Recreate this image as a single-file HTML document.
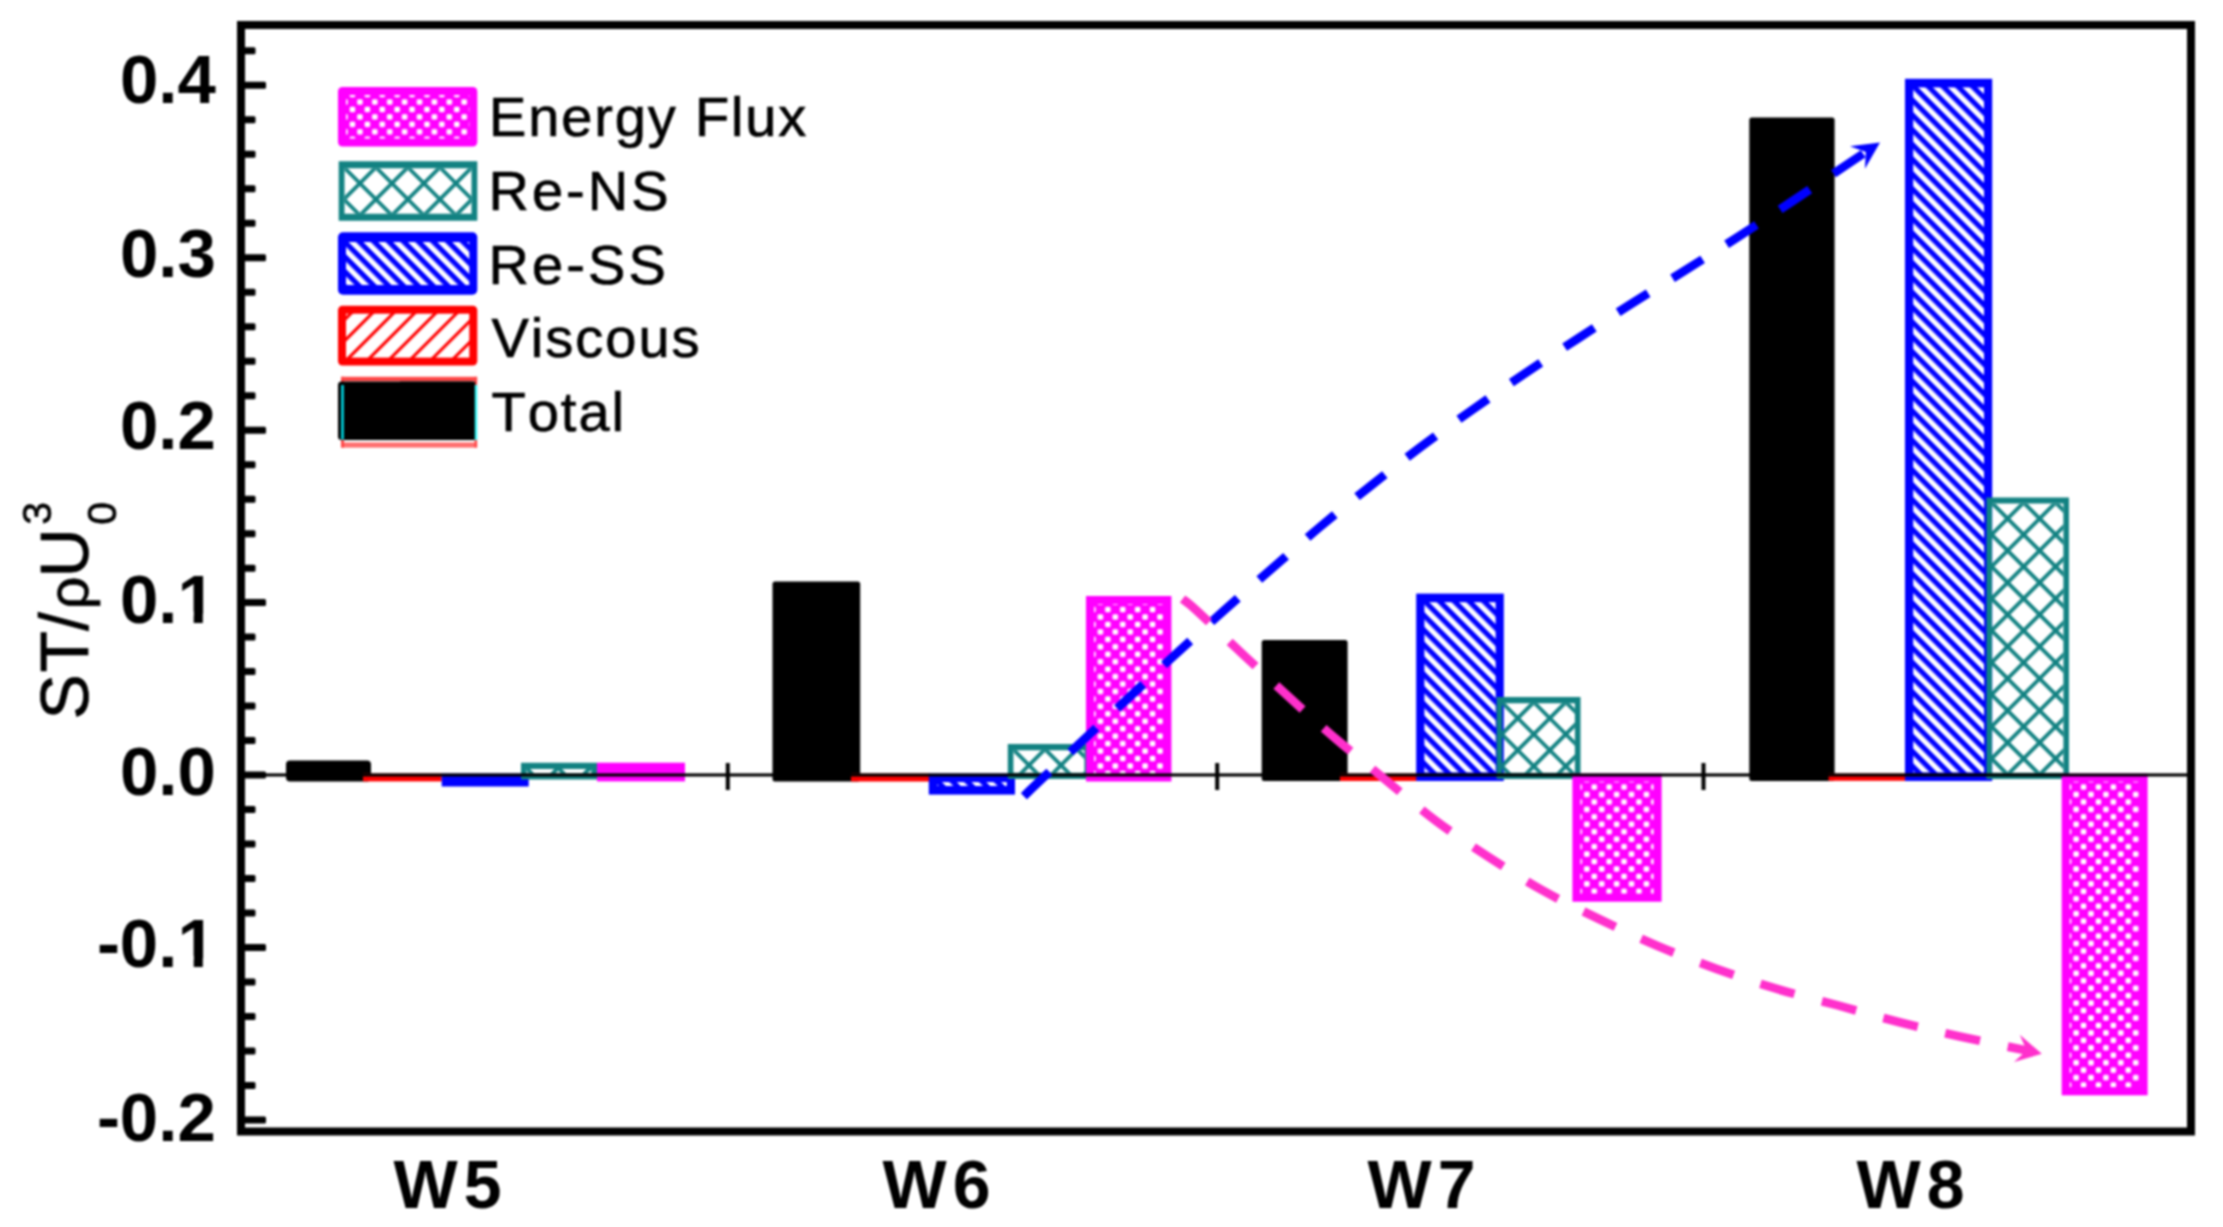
<!DOCTYPE html>
<html lang="en"><head><meta charset="utf-8"><title>Energy flux bar chart</title>
<style>
html,body{margin:0;padding:0;background:#fff;}
body{width:2223px;height:1227px;overflow:hidden;}
svg{display:block;}
text{font-family:"Liberation Sans",sans-serif;fill:#000;font-kerning:none;}
.b{font-weight:bold;}
.r{stroke:#000;stroke-width:0.7px;}
</style></head><body>
<svg width="2223" height="1227" viewBox="0 0 2223 1227">
<defs>
<pattern id="b1" x="-231.44" y="0" width="10.465" height="20" patternUnits="userSpaceOnUse" patternTransform="rotate(-45)"><rect width="10.465" height="20" fill="#0000ff"/><rect width="5.233" height="20" fill="#fff"/></pattern>
<pattern id="t2" x="-1.90" y="-1.90" width="22.627" height="22.627" patternUnits="userSpaceOnUse" patternTransform="translate(526.20 767.90) rotate(45)"><rect width="3.800" height="22.627" fill="#128282"/><rect width="22.627" height="3.800" fill="#128282"/></pattern>
<pattern id="b3" x="113.00" y="0" width="10.465" height="20" patternUnits="userSpaceOnUse" patternTransform="rotate(-45)"><rect width="10.465" height="20" fill="#0000ff"/><rect width="5.233" height="20" fill="#fff"/></pattern>
<pattern id="t4" x="-1.90" y="-1.90" width="22.627" height="22.627" patternUnits="userSpaceOnUse" patternTransform="translate(1013.00 749.20) rotate(45)"><rect width="3.800" height="22.627" fill="#128282"/><rect width="22.627" height="3.800" fill="#128282"/></pattern>
<pattern id="m5" x="1100.40" y="617.00" width="14.90" height="14.90" patternUnits="userSpaceOnUse"><rect width="14.90" height="14.90" fill="#ff00ff"/><rect x="-2.75" y="-2.75" width="5.50" height="5.50" rx="1.2" fill="#fff"/><rect x="12.15" y="-2.75" width="5.50" height="5.50" rx="1.2" fill="#fff"/><rect x="-2.75" y="12.15" width="5.50" height="5.50" rx="1.2" fill="#fff"/><rect x="12.15" y="12.15" width="5.50" height="5.50" rx="1.2" fill="#fff"/><rect x="4.70" y="4.70" width="5.50" height="5.50" rx="1.2" fill="#fff"/></pattern>
<pattern id="b6" x="584.85" y="0" width="10.465" height="20" patternUnits="userSpaceOnUse" patternTransform="rotate(-45)"><rect width="10.465" height="20" fill="#0000ff"/><rect width="5.233" height="20" fill="#fff"/></pattern>
<pattern id="t7" x="-1.90" y="-1.90" width="22.627" height="22.627" patternUnits="userSpaceOnUse" patternTransform="translate(1501.80 702.20) rotate(45)"><rect width="3.800" height="22.627" fill="#128282"/><rect width="22.627" height="3.800" fill="#128282"/></pattern>
<pattern id="m8" x="1586.80" y="794.50" width="14.90" height="14.90" patternUnits="userSpaceOnUse"><rect width="14.90" height="14.90" fill="#ff00ff"/><rect x="-2.75" y="-2.75" width="5.50" height="5.50" rx="1.2" fill="#fff"/><rect x="12.15" y="-2.75" width="5.50" height="5.50" rx="1.2" fill="#fff"/><rect x="-2.75" y="12.15" width="5.50" height="5.50" rx="1.2" fill="#fff"/><rect x="12.15" y="12.15" width="5.50" height="5.50" rx="1.2" fill="#fff"/><rect x="4.70" y="4.70" width="5.50" height="5.50" rx="1.2" fill="#fff"/></pattern>
<pattern id="b9" x="1294.50" y="0" width="10.465" height="20" patternUnits="userSpaceOnUse" patternTransform="rotate(-45)"><rect width="10.465" height="20" fill="#0000ff"/><rect width="5.233" height="20" fill="#fff"/></pattern>
<pattern id="t10" x="-1.90" y="-1.90" width="22.627" height="22.627" patternUnits="userSpaceOnUse" patternTransform="translate(1991.60 502.60) rotate(45)"><rect width="3.800" height="22.627" fill="#128282"/><rect width="22.627" height="3.800" fill="#128282"/></pattern>
<pattern id="m11" x="2076.10" y="794.50" width="14.90" height="14.90" patternUnits="userSpaceOnUse"><rect width="14.90" height="14.90" fill="#ff00ff"/><rect x="-2.75" y="-2.75" width="5.50" height="5.50" rx="1.2" fill="#fff"/><rect x="12.15" y="-2.75" width="5.50" height="5.50" rx="1.2" fill="#fff"/><rect x="-2.75" y="12.15" width="5.50" height="5.50" rx="1.2" fill="#fff"/><rect x="12.15" y="12.15" width="5.50" height="5.50" rx="1.2" fill="#fff"/><rect x="4.70" y="4.70" width="5.50" height="5.50" rx="1.2" fill="#fff"/></pattern>
<pattern id="m12" x="359.90" y="102.00" width="14.90" height="14.90" patternUnits="userSpaceOnUse"><rect width="14.90" height="14.90" fill="#ff00ff"/><rect x="-2.75" y="-2.75" width="5.50" height="5.50" rx="1.2" fill="#fff"/><rect x="12.15" y="-2.75" width="5.50" height="5.50" rx="1.2" fill="#fff"/><rect x="-2.75" y="12.15" width="5.50" height="5.50" rx="1.2" fill="#fff"/><rect x="12.15" y="12.15" width="5.50" height="5.50" rx="1.2" fill="#fff"/><rect x="4.70" y="4.70" width="5.50" height="5.50" rx="1.2" fill="#fff"/></pattern>
<pattern id="t13" x="-1.90" y="-1.90" width="22.627" height="22.627" patternUnits="userSpaceOnUse" patternTransform="translate(359.90 183.30) rotate(45)"><rect width="3.800" height="22.627" fill="#128282"/><rect width="22.627" height="3.800" fill="#128282"/></pattern>
<pattern id="b14" x="75.31" y="0" width="10.465" height="20" patternUnits="userSpaceOnUse" patternTransform="rotate(-45)"><rect width="10.465" height="20" fill="#0000ff"/><rect width="5.233" height="20" fill="#fff"/></pattern>
<pattern id="r15" x="498.09" y="0" width="14.920" height="20" patternUnits="userSpaceOnUse" patternTransform="rotate(45)"><rect width="14.920" height="20" fill="#fff"/><rect width="3.100" height="20" fill="#ff0000"/></pattern>
<filter id="soft" x="0" y="0" width="2223" height="1227" filterUnits="userSpaceOnUse" color-interpolation-filters="sRGB"><feGaussianBlur stdDeviation="0.9"/></filter>
</defs>
<rect width="2223" height="1227" fill="#fff"/>
<g filter="url(#soft)">
<rect width="2223" height="1227" fill="#fff"/>
<rect x="286.0" y="760.4" width="85.0" height="21.0" fill="#000000" rx="4"/>
<rect x="363.0" y="773.5" width="78.7" height="7.9" fill="#ff0000"/>
<rect x="441.7" y="773.5" width="87.0" height="13.0" fill="#0000ff"/>
<path fill-rule="evenodd" fill="#128282" d="M521.0 762.7H597.0V779.5H521.0Z M526.6 768.9H591.4V773.3H526.6Z"/>
<rect x="526.6" y="768.9" width="64.8" height="4.4" fill="url(#t2)"/>
<rect x="597.0" y="762.7" width="88.0" height="18.7" fill="#ff00ff"/>
<rect x="772.5" y="581.4" width="87.7" height="200.1" fill="#000000" rx="2.5"/>
<rect x="851.0" y="773.5" width="79.0" height="8.0" fill="#ff0000"/>
<rect x="928.8" y="773.5" width="86.2" height="21.1" fill="#0000ff"/>
<rect x="937.0" y="782.1" width="69.8" height="3.9" fill="url(#b3)"/>
<path fill-rule="evenodd" fill="#128282" d="M1007.8 744.0H1090.0V779.0H1007.8Z M1013.4 750.2H1084.4V772.8H1013.4Z"/>
<rect x="1013.4" y="750.2" width="71.0" height="22.6" fill="url(#t4)"/>
<rect x="1086.0" y="596.0" width="85.4" height="185.5" fill="#ff00ff"/>
<rect x="1094.0" y="604.0" width="69.4" height="169.5" fill="url(#m5)"/>
<rect x="1261.7" y="640.0" width="85.9" height="141.0" fill="#000000" rx="2.5"/>
<rect x="1340.0" y="773.5" width="79.4" height="7.5" fill="#ff0000"/>
<rect x="1416.2" y="593.6" width="87.6" height="187.4" fill="#0000ff"/>
<rect x="1424.4" y="602.2" width="71.2" height="170.2" fill="url(#b6)"/>
<path fill-rule="evenodd" fill="#128282" d="M1496.6 697.0H1580.5V779.0H1496.6Z M1502.2 703.2H1574.9V772.8H1502.2Z"/>
<rect x="1502.2" y="703.2" width="72.7" height="69.6" fill="url(#t7)"/>
<rect x="1572.4" y="773.5" width="89.2" height="128.2" fill="#ff00ff"/>
<rect x="1580.4" y="781.5" width="73.2" height="112.2" fill="url(#m8)"/>
<rect x="1749.3" y="117.5" width="85.3" height="663.5" fill="#000000" rx="2.5"/>
<rect x="1828.6" y="773.5" width="78.4" height="7.3" fill="#ff0000"/>
<rect x="1905.0" y="78.8" width="87.2" height="702.2" fill="#0000ff"/>
<rect x="1913.2" y="87.4" width="70.8" height="685.0" fill="url(#b9)"/>
<path fill-rule="evenodd" fill="#128282" d="M1986.4 497.4H2069.0V779.0H1986.4Z M1992.0 503.6H2063.4V772.8H1992.0Z"/>
<rect x="1992.0" y="503.6" width="71.4" height="269.2" fill="url(#t10)"/>
<rect x="2061.7" y="773.5" width="85.9" height="321.8" fill="#ff00ff"/>
<rect x="2069.7" y="781.5" width="69.9" height="305.8" fill="url(#m11)"/>
<rect x="244" y="773.4" width="1944" height="3.1" fill="#000"/>
<rect x="725.8" y="763" width="4" height="27" fill="#000"/>
<rect x="1215.2" y="763" width="4" height="27" fill="#000"/>
<rect x="1701.5" y="763" width="4" height="27" fill="#000"/>
<rect x="241" y="25" width="1950" height="1106.5" fill="none" stroke="#000" stroke-width="8"/>
<rect x="244" y="47.3" width="11.5" height="7" rx="1.5" fill="#000"/>
<rect x="244" y="81.8" width="22.0" height="7" rx="1.5" fill="#000"/>
<rect x="244" y="116.3" width="11.5" height="7" rx="1.5" fill="#000"/>
<rect x="244" y="150.8" width="11.5" height="7" rx="1.5" fill="#000"/>
<rect x="244" y="185.3" width="11.5" height="7" rx="1.5" fill="#000"/>
<rect x="244" y="219.8" width="11.5" height="7" rx="1.5" fill="#000"/>
<rect x="244" y="254.2" width="22.0" height="7" rx="1.5" fill="#000"/>
<rect x="244" y="288.7" width="11.5" height="7" rx="1.5" fill="#000"/>
<rect x="244" y="323.2" width="11.5" height="7" rx="1.5" fill="#000"/>
<rect x="244" y="357.7" width="11.5" height="7" rx="1.5" fill="#000"/>
<rect x="244" y="392.2" width="11.5" height="7" rx="1.5" fill="#000"/>
<rect x="244" y="426.7" width="22.0" height="7" rx="1.5" fill="#000"/>
<rect x="244" y="461.2" width="11.5" height="7" rx="1.5" fill="#000"/>
<rect x="244" y="495.7" width="11.5" height="7" rx="1.5" fill="#000"/>
<rect x="244" y="530.2" width="11.5" height="7" rx="1.5" fill="#000"/>
<rect x="244" y="564.7" width="11.5" height="7" rx="1.5" fill="#000"/>
<rect x="244" y="599.1" width="22.0" height="7" rx="1.5" fill="#000"/>
<rect x="244" y="633.6" width="11.5" height="7" rx="1.5" fill="#000"/>
<rect x="244" y="668.1" width="11.5" height="7" rx="1.5" fill="#000"/>
<rect x="244" y="702.6" width="11.5" height="7" rx="1.5" fill="#000"/>
<rect x="244" y="737.1" width="11.5" height="7" rx="1.5" fill="#000"/>
<rect x="244" y="771.6" width="22.0" height="7" rx="1.5" fill="#000"/>
<rect x="244" y="806.1" width="11.5" height="7" rx="1.5" fill="#000"/>
<rect x="244" y="840.6" width="11.5" height="7" rx="1.5" fill="#000"/>
<rect x="244" y="875.1" width="11.5" height="7" rx="1.5" fill="#000"/>
<rect x="244" y="909.6" width="11.5" height="7" rx="1.5" fill="#000"/>
<rect x="244" y="944.0" width="22.0" height="7" rx="1.5" fill="#000"/>
<rect x="244" y="978.5" width="11.5" height="7" rx="1.5" fill="#000"/>
<rect x="244" y="1013.0" width="11.5" height="7" rx="1.5" fill="#000"/>
<rect x="244" y="1047.5" width="11.5" height="7" rx="1.5" fill="#000"/>
<rect x="244" y="1082.0" width="11.5" height="7" rx="1.5" fill="#000"/>
<rect x="244" y="1116.5" width="22.0" height="7" rx="1.5" fill="#000"/>
<text class="b" x="215.8" y="103.1" font-size="69" text-anchor="end">0.4</text>
<text class="b" x="215.8" y="276.8" font-size="69" text-anchor="end">0.3</text>
<text class="b" x="215.8" y="448.8" font-size="69" text-anchor="end">0.2</text>
<text class="b" x="215.8" y="622.7" font-size="69" text-anchor="end">0.1</text>
<text class="b" x="215.8" y="794.8" font-size="69" text-anchor="end">0.0</text>
<text class="b" x="215.8" y="967.3" font-size="69" text-anchor="end">-0.1</text>
<text class="b" x="215.8" y="1140.7" font-size="69" text-anchor="end">-0.2</text>
<rect x="178" y="611.2" width="15.7" height="13.5" fill="#fff"/>
<rect x="202.8" y="613.7" width="14" height="11" fill="#fff"/>
<rect x="178" y="955.8" width="15.7" height="13.5" fill="#fff"/>
<rect x="202.8" y="958.3" width="14" height="11" fill="#fff"/>
<text class="b" x="450.5" y="1208.3" font-size="68" text-anchor="middle" letter-spacing="6">W5</text>
<text class="b" x="939.5" y="1208.3" font-size="68" text-anchor="middle" letter-spacing="6">W6</text>
<text class="b" x="1424.5" y="1208.3" font-size="68" text-anchor="middle" letter-spacing="6">W7</text>
<text class="b" x="1913.5" y="1208.3" font-size="68" text-anchor="middle" letter-spacing="6">W8</text>
<g class="r" transform="translate(88,0) rotate(-90)">
<text y="0" font-size="68"><tspan x="-719.5 -672.5 -631.0">ST/</tspan><tspan x="-609.5" font-size="58">ρ</tspan><tspan x="-577.4">U</tspan><tspan x="-524.7" dy="-36.7" font-size="41">3</tspan><tspan x="-524.7" dy="64.7" font-size="41">0</tspan></text>
</g>
<rect x="338.0" y="87.0" width="139.3" height="59.6" fill="#ff00ff" rx="4.5"/>
<rect x="346.0" y="95.0" width="123.3" height="43.6" fill="url(#m12)"/>
<path fill-rule="evenodd" fill="#128282" d="M338.7 161.3H477.3V220.8H338.7Z M344.5 168.3H471.5V213.8H344.5Z"/>
<rect x="344.5" y="168.3" width="127.0" height="45.5" fill="url(#t13)"/>
<rect x="338.0" y="232.3" width="139.3" height="62.4" fill="#0000ff" rx="5"/>
<rect x="346.0" y="242.0" width="123.3" height="43.0" fill="url(#b14)"/>
<rect x="338.0" y="305.7" width="139.3" height="59.9" fill="#ff0000" rx="4.5"/>
<rect x="346.0" y="313.7" width="123.3" height="43.9" fill="url(#r15)"/>
<rect x="341" y="376.8" width="136.1" height="4.4" fill="#ff4545"/>
<rect x="341" y="442.4" width="136.1" height="5.2" fill="#ff6e6e"/>
<rect x="341" y="376.8" width="3" height="70.8" fill="#ff4545"/>
<rect x="474.6" y="376.8" width="2.5" height="70.8" fill="#ff4545"/>
<rect x="338" y="381.6" width="137.2" height="58.3" rx="3.5" fill="#000"/>
<rect x="400" y="381.6" width="75.2" height="58.3" fill="#000"/>
<rect x="341" y="385" width="3" height="54.6" fill="#00c2cc"/>
<rect x="474.8" y="385" width="2.4" height="55" fill="#30ffff"/>
<text class="r" x="489.0" y="136.0" font-size="56" letter-spacing="1.85">Energy Flux</text>
<text class="r" x="488.5" y="209.7" font-size="56" letter-spacing="3">Re-NS</text>
<text class="r" x="488.5" y="283.8" font-size="56" letter-spacing="3.1">Re-SS</text>
<text class="r" x="491.5" y="357.2" font-size="56" letter-spacing="2">Viscous</text>
<text class="r" x="491.5" y="431.2" font-size="56" letter-spacing="2">Total</text>
<path d="M1024.0 796.3 C1026.1 794.2 1026.5 793.4 1036.5 784.0 C1046.5 774.6 1068.0 754.4 1083.7 739.7 C1099.4 725.0 1115.0 710.5 1130.5 696.0 C1146.0 681.5 1161.4 667.2 1177.0 653.0 C1192.6 638.8 1208.2 624.6 1224.0 610.5 C1239.8 596.4 1255.9 582.5 1272.0 568.5 C1288.1 554.5 1304.1 540.2 1320.5 526.5 C1336.9 512.8 1353.9 499.2 1370.5 486.0 C1387.1 472.8 1403.0 460.2 1420.0 447.5 C1437.0 434.8 1455.3 421.8 1472.8 409.5 C1490.2 397.2 1507.2 385.4 1524.7 373.6 C1542.2 361.8 1560.3 350.1 1578.0 338.5 C1595.7 326.9 1613.0 315.4 1631.0 304.0 C1649.0 292.6 1667.8 281.2 1685.7 270.0 C1703.7 258.8 1720.9 248.0 1738.7 236.5 C1756.5 225.0 1771.3 215.2 1792.7 201.0 C1814.1 186.8 1854.6 159.5 1867.0 151.2" fill="none" stroke="#0000ff" stroke-width="8.7" stroke-dasharray="35.5 28.5"/>
<path d="M1182.5 599.0 C1184.8 600.8 1186.0 600.9 1196.0 610.0 C1206.0 619.1 1226.8 639.3 1242.4 653.9 C1258.0 668.5 1273.8 683.2 1289.5 697.5 C1305.2 711.8 1320.5 725.7 1336.5 739.4 C1352.5 753.1 1368.8 766.0 1385.3 779.6 C1401.8 793.2 1418.7 807.9 1435.8 820.7 C1452.9 833.5 1470.3 845.1 1488.0 856.6 C1505.7 868.1 1523.4 879.6 1541.9 890.0 C1560.4 900.4 1579.9 909.8 1599.0 919.0 C1618.1 928.2 1636.9 937.2 1656.5 945.5 C1676.1 953.8 1696.5 961.7 1716.4 968.9 C1736.4 976.1 1756.0 982.6 1776.2 988.7 C1796.5 994.8 1817.5 999.9 1837.9 1005.4 C1858.3 1010.9 1878.1 1016.8 1898.6 1022.0 C1919.1 1027.2 1939.4 1031.9 1961.0 1036.7 C1982.6 1041.5 2016.8 1048.5 2028.0 1050.8" fill="none" stroke="#ff30cc" stroke-width="8.7" stroke-dasharray="35.5 28.3"/>
<path d="M1880.0 142.6 L1864.9 168.7 L1865.8 152.0 L1850.0 146.2 Z" fill="#0000ff"/>
<path d="M2041.8 1053.8 L2013.9 1062.1 L2026.6 1050.5 L2019.8 1034.8 Z" fill="#ff30cc"/>
</g>
</svg>
</body></html>
